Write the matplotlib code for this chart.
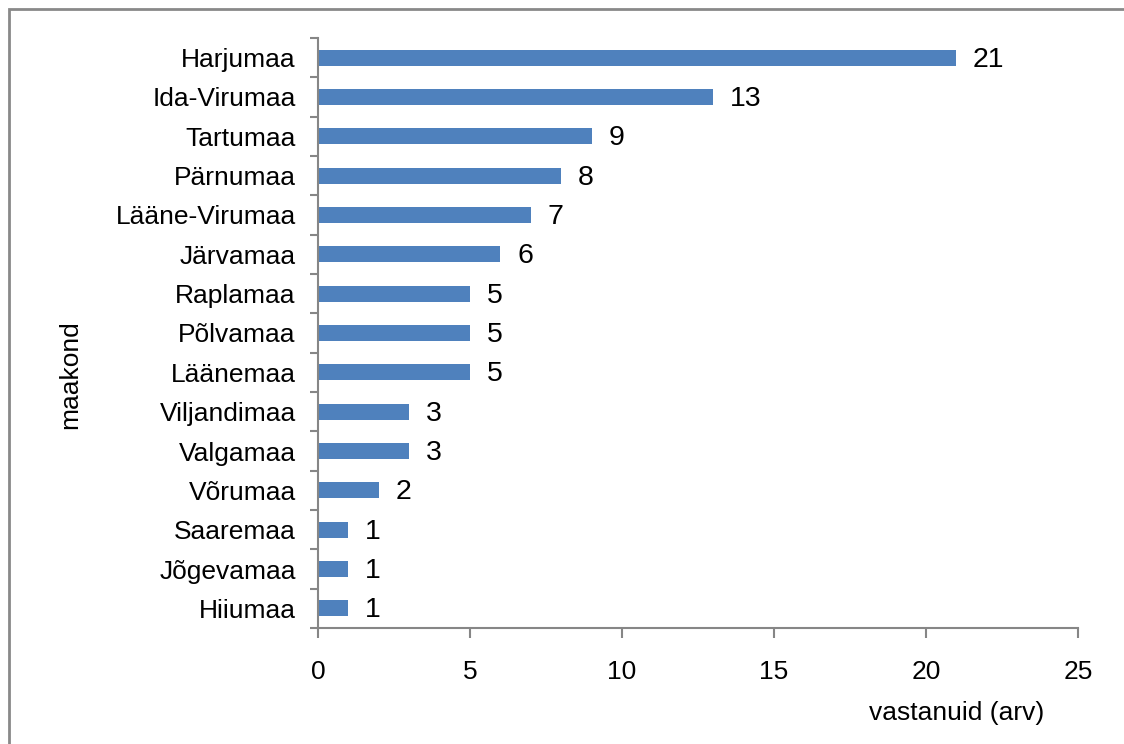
import matplotlib.pyplot as plt
from matplotlib.patches import Rectangle
from matplotlib.ticker import FixedLocator

plt.rcParams['font.family'] = ['Liberation Sans', 'DejaVu Sans']

# counties, top to bottom as in the chart
maakonnad = ["Harjumaa", "Ida-Virumaa", "Tartumaa", "Pärnumaa", "Lääne-Virumaa",
             "Järvamaa", "Raplamaa", "Põlvamaa", "Läänemaa", "Viljandimaa",
             "Valgamaa", "Võrumaa", "Saaremaa", "Jõgevamaa", "Hiiumaa"]
vastanuid = [21, 13, 9, 8, 7, 6, 5, 5, 5, 3, 3, 2, 1, 1, 1]
x_ticks = [0, 5, 10, 15, 20, 25]

W, H = 1124, 744
fig = plt.figure(figsize=(W / 100, H / 100), dpi=100)
ax = fig.add_axes([318 / W, 1 - 628 / H, (1078 - 318) / W, (628 - 38) / H])

# reverse so first item ends up on top
labels = maakonnad[::-1]
vals = vastanuid[::-1]
pos = list(range(len(labels)))
ax.barh(pos, vals, height=0.4, color="#4F81BD", zorder=2)

for p, v in zip(pos, vals):
    ax.annotate(str(v), (v, p), xytext=(12, -1.5), textcoords="offset points",
                ha="left", va="center", fontsize=20.5, color="black")

ax.set_xlim(0, 25)
ax.set_ylim(-0.5, len(labels) - 0.5)
ax.set_xticks(x_ticks)
ax.set_yticks(pos)
ax.set_yticklabels(labels)
ax.yaxis.set_minor_locator(FixedLocator([i - 0.5 for i in range(len(labels) + 1)]))

gray = "#868686"
for s in ["top", "right"]:
    ax.spines[s].set_visible(False)
for s in ["left", "bottom"]:
    ax.spines[s].set_color(gray)
    ax.spines[s].set_linewidth(1.5)

ax.tick_params(axis="y", which="major", length=0, pad=16, labelsize=19)
ax.tick_params(axis="y", which="minor", length=6, width=1.5, color=gray)
ax.tick_params(axis="x", which="major", length=7, width=1.5, color=gray, pad=16, labelsize=19)

fig.text(957 / W, 1 - 713 / H, "vastanuid (arv)", ha="center", va="center", fontsize=19)
fig.text(70 / W, 1 - 375 / H, "maakond", ha="center", va="center", rotation=90, fontsize=19)

# outer chart frame (only left and top visible in the crop)
fig.add_artist(Rectangle((9 / W, -0.1), 1.2, 1.1 - 9 / H, transform=fig.transFigure,
                         fill=False, edgecolor="#898989", linewidth=2))

fig.savefig("out.png", dpi=100)
